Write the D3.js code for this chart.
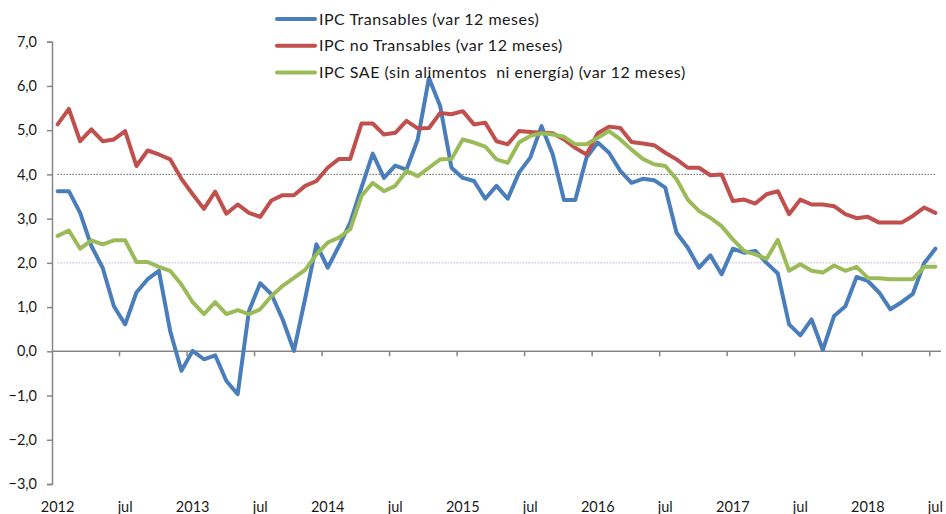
<!DOCTYPE html>
<html>
<head>
<meta charset="utf-8">
<script src="https://cdn.jsdelivr.net/npm/d3@7"></script>
<style>
  body { margin: 0; background: #fff; }
  svg text { font-family: Lato, "Noto Sans", sans-serif; fill: #1a1a1a; }
</style>
</head>
<body>
<div id="chart"></div>
<script>
// categorias: meses ene-2012 .. jul-2018
var years = [2012, 2013, 2014, 2015, 2016, 2017, 2018];
var months = ["ene", "feb", "mar", "abr", "may", "jun", "jul", "ago", "sep", "oct", "nov", "dic"];
var categories = [];
years.forEach(function(y) {
  months.forEach(function(m) {
    if (y < 2018 || months.indexOf(m) <= 6) categories.push(m + "-" + y);
  });
});

var xTickLabels = ["2012", "jul", "2013", "jul", "2014", "jul", "2015", "jul", "2016", "jul", "2017", "jul", "2018", "jul"];
var yTicks = [-3, -2, -1, 0, 1, 2, 3, 4, 5, 6, 7];

var transables = [
  3.62, 3.62, 3.13, 2.38, 1.89, 1.02, 0.61, 1.33, 1.63, 1.82, 0.46, -0.44,
  0.01, -0.18, -0.09, -0.67, -0.97, 0.91, 1.54, 1.29, 0.72, 0.01, 1.20, 2.42,
  1.89, 2.38, 2.91, 3.70, 4.47, 3.92, 4.20, 4.11, 4.79, 6.18, 5.54, 4.15,
  3.92, 3.85, 3.45, 3.74, 3.45, 4.04, 4.38, 5.09, 4.45, 3.42, 3.42, 4.38,
  4.72, 4.49, 4.08, 3.81, 3.90, 3.87, 3.70, 2.68, 2.34, 1.89, 2.17, 1.74,
  2.32, 2.23, 2.27, 2.00, 1.76, 0.61, 0.36, 0.72, 0.03, 0.80, 1.02, 1.68,
  1.59, 1.33, 0.95, 1.11, 1.30, 1.99, 2.32
];
var noTransables = [
  5.13, 5.48, 4.75, 5.02, 4.75, 4.79, 4.98, 4.19, 4.54, 4.45, 4.34, 3.90,
  3.55, 3.22, 3.61, 3.11, 3.32, 3.13, 3.04, 3.41, 3.53, 3.53, 3.74, 3.85,
  4.15, 4.35, 4.35, 5.15, 5.15, 4.90, 4.94, 5.21, 5.04, 5.05, 5.39, 5.36,
  5.43, 5.13, 5.17, 4.75, 4.68, 4.98, 4.96, 4.94, 4.93, 4.79, 4.60, 4.45,
  4.93, 5.08, 5.05, 4.73, 4.70, 4.66, 4.49, 4.34, 4.15, 4.15, 3.98, 4.00,
  3.40, 3.43, 3.34, 3.55, 3.62, 3.10, 3.43, 3.32, 3.32, 3.28, 3.10, 3.01,
  3.04, 2.91, 2.91, 2.91, 3.06, 3.25, 3.13
];
var sae = [
  2.61, 2.73, 2.32, 2.51, 2.42, 2.51, 2.51, 2.02, 2.02, 1.91, 1.82, 1.51,
  1.11, 0.84, 1.11, 0.84, 0.93, 0.84, 0.95, 1.25, 1.48, 1.66, 1.84, 2.19,
  2.46, 2.57, 2.76, 3.51, 3.81, 3.62, 3.74, 4.08, 3.96, 4.15, 4.34, 4.35,
  4.79, 4.72, 4.63, 4.34, 4.26, 4.72, 4.87, 4.93, 4.90, 4.85, 4.68, 4.68,
  4.83, 4.98, 4.79, 4.56, 4.35, 4.23, 4.19, 3.89, 3.43, 3.17, 3.02, 2.83,
  2.53, 2.27, 2.19, 2.09, 2.52, 1.82, 1.97, 1.82, 1.78, 1.94, 1.82, 1.91,
  1.66, 1.65, 1.63, 1.63, 1.63, 1.91, 1.91
];
// rango meta
var metaSup = 4, metaInf = 2;

var seriesNames = ["IPC Transables (var 12 meses)", "IPC no Transables (var 12 meses)", "IPC SAE (sin alimentos  ni energía) (var 12 meses)"];
var seriesColors = ["#4a7ebb", "#c0504d", "#9bbb59"];
var seriesData = [transables, noTransables, sae];

var w = 946, h = 514;
var plotLeft = 52, plotRight = 941, plotTop = 41.7, plotBottom = 484;

var svg = d3.select("#chart").append("svg")
    .attr("width", w)
    .attr("height", h);

var x = d3.scaleBand().domain(categories).range([plotLeft, plotRight]).paddingInner(0).paddingOuter(0);
var y = d3.scaleLinear().domain([-3, 7]).range([plotBottom, plotTop]);
var cx = function(i) { return x(categories[i]) + x.bandwidth() / 2; };

// lineas de meta (punteadas)
svg.append("line")
    .attr("x1", cx(0)).attr("x2", cx(categories.length - 1))
    .attr("y1", y(metaSup)).attr("y2", y(metaSup))
    .attr("stroke", "#111").attr("stroke-width", 1).attr("stroke-dasharray", "1,2");
svg.append("line")
    .attr("x1", cx(0)).attr("x2", cx(categories.length - 1))
    .attr("y1", y(metaInf)).attr("y2", y(metaInf))
    .attr("stroke", "#9a86c0").attr("stroke-width", 1).attr("stroke-dasharray", "1,2");

// eje Y
var yAxis = d3.axisLeft(y).tickValues(yTicks).tickSize(5).tickPadding(10)
    .tickFormat(function(d) { return d3.format(".1f")(d).replace(".", ","); });
var gy = svg.append("g").attr("transform", "translate(" + plotLeft + ",0)").call(yAxis);
gy.select(".domain").attr("stroke", "#868686").attr("stroke-width", 1.5);
gy.selectAll(".tick line").attr("stroke", "#868686").attr("stroke-width", 1.5);
gy.selectAll(".tick text").attr("font-size", 14.5).attr("font-family", "Lato, sans-serif").attr("fill", "#1a1a1a");

// eje X en el cero
var gx = svg.append("g").attr("transform", "translate(0," + y(0) + ")");
gx.append("line").attr("x1", plotLeft).attr("x2", plotRight).attr("stroke", "#868686").attr("stroke-width", 1.5);
var tickIdx = d3.range(0, categories.length, 6);
gx.selectAll("line.tk").data(tickIdx.slice(1)).enter().append("line")
    .attr("class", "tk")
    .attr("x1", function(i) { return x(categories[i]); })
    .attr("x2", function(i) { return x(categories[i]); })
    .attr("y1", 0).attr("y2", 5)
    .attr("stroke", "#868686").attr("stroke-width", 1.5);

svg.selectAll("text.xl").data(tickIdx).enter().append("text")
    .attr("class", "xl")
    .attr("x", function(i) { return cx(i); })
    .attr("y", 512)
    .attr("text-anchor", "middle")
    .attr("font-size", 14.5)
    .text(function(d, k) { return xTickLabels[k]; });

// series
var line = d3.line()
    .x(function(d, i) { return cx(i); })
    .y(function(d) { return y(d); });

seriesData.forEach(function(s, k) {
  svg.append("path")
      .datum(s)
      .attr("d", line)
      .attr("fill", "none")
      .attr("stroke", seriesColors[k])
      .attr("stroke-width", 4)
      .attr("stroke-linejoin", "round")
      .attr("stroke-linecap", "round");
});

// leyenda
var lg = svg.append("g").selectAll("g").data(seriesNames).enter().append("g")
    .attr("transform", function(d, i) { return "translate(277," + (19 + i * 26.7) + ")"; });
lg.append("line")
    .attr("x1", 0).attr("x2", 38)
    .attr("stroke", function(d, i) { return seriesColors[i]; })
    .attr("stroke-width", 4).attr("stroke-linecap", "round");
lg.append("text")
    .attr("x", 42).attr("dy", "0.35em")
    .attr("font-size", 16)
    .attr("letter-spacing", 0.5)
    .style("white-space", "pre")
    .text(function(d) { return d; });
</script>
</body>
</html>
